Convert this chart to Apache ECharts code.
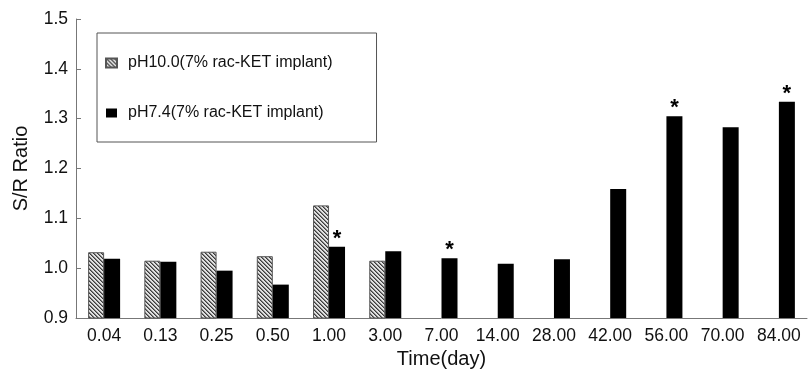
<!DOCTYPE html>
<html>
<head>
<meta charset="utf-8">
<script src="https://cdn.jsdelivr.net/npm/echarts@6/dist/echarts.min.js"></script>
<style>
  html, body { margin: 0; padding: 0; background: #fff; }
  #chart { width: 809px; height: 372px; }
</style>
</head>
<body>
<div id="chart"></div>
<script>
const categories = ["0.04", "0.13", "0.25", "0.50", "1.00", "3.00", "7.00", "14.00", "28.00", "42.00", "56.00", "70.00", "84.00"];
const ph100 = [1.032, 1.015, 1.033, 1.024, 1.126, 1.015, null, null, null, null, null, null, null];
const ph74 = [1.019, 1.013, 0.995, 0.967, 1.043, 1.034, 1.020, 1.009, 1.018, 1.159, 1.305, 1.283, 1.334];
const ph74Marks = ["", "", "", "", "*", "", "*", "", "", "", "*", "", "*"];
const seriesNames = ["pH10.0(7% rac-KET implant)", "pH7.4(7% rac-KET implant)"];

const fontFamily = "'Liberation Sans', Arial, sans-serif";

// diagonal hatch for the pH10.0 bars
const makeHatch = () => {
  const c = document.createElement("canvas");
  c.width = 4;
  c.height = 4;
  const ctx = c.getContext("2d");
  const img = ctx.createImageData(4, 4);
  for (let y = 0; y < 4; y++) {
    for (let x = 0; x < 4; x++) {
      const d = (x - y + 8) % 4;
      const v = d === 0 ? 60 : (d === 1 ? 130 : 225);
      const i = (y * 4 + x) * 4;
      img.data[i] = v; img.data[i + 1] = v; img.data[i + 2] = v; img.data[i + 3] = 255;
    }
  }
  ctx.putImageData(img, 0, 0);
  return c;
};

const chart = echarts.init(document.getElementById("chart"), null, { renderer: "canvas" });
const hatch = { image: makeHatch(), repeat: "repeat" };

chart.setOption({
  animation: false,
  textStyle: { fontFamily },
  grid: { left: 76, right: 2, top: 19, bottom: 54, outerBoundsMode: "none" },
  legend: {
    orient: "vertical",
    left: 97,
    top: 33,
    padding: [22, 44, 21, 8],
    borderColor: "#555",
    borderWidth: 1,
    itemWidth: 11,
    itemHeight: 9,
    itemGap: 34,
    icon: "rect",
    textStyle: { fontSize: 16, color: "#111", fontFamily, padding: [0, 0, 0, 6] },
    data: seriesNames,
  },
  xAxis: {
    type: "category",
    data: categories,
    name: "Time(day)",
    nameLocation: "middle",
    nameGap: 29,
    nameTextStyle: { fontSize: 20, color: "#111" },
    axisLine: { lineStyle: { color: "#777" } },
    axisTick: { inside: true, length: 5, lineStyle: { color: "#777" } },
    axisLabel: { fontSize: 17.5, color: "#111", margin: 9, interval: 0 },
  },
  yAxis: {
    type: "value",
    min: 0.9,
    max: 1.5,
    interval: 0.1,
    name: "S/R Ratio",
    nameLocation: "middle",
    nameGap: 45,
    nameTextStyle: { fontSize: 20, color: "#111" },
    axisLine: { show: true, lineStyle: { color: "#777" } },
    axisTick: { show: true, inside: true, length: 5, lineStyle: { color: "#777" } },
    axisLabel: { fontSize: 17.5, color: "#111", margin: 8, formatter: (v) => v.toFixed(1) },
    splitLine: { show: false },
  },
  series: [
    {
      name: seriesNames[0],
      type: "bar",
      data: ph100,
      barWidth: 16,
      barGap: "0%",
      itemStyle: { color: hatch, borderColor: "#555", borderWidth: 1 },
    },
    {
      name: seriesNames[1],
      type: "bar",
      data: ph74,
      barWidth: 16,
      itemStyle: { color: "#000" },
      label: {
        show: true,
        position: "top",
        distance: -3,
        fontSize: 22,
        fontWeight: "bold",
        color: "#000",
        formatter: (p) => ph74Marks[p.dataIndex],
      },
    },
  ],
});
</script>
</body>
</html>
